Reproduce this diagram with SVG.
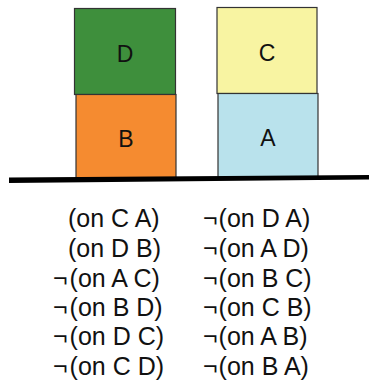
<svg xmlns="http://www.w3.org/2000/svg" width="369" height="385" viewBox="0 0 369 385">
  <style>
    .block { stroke: #333; stroke-width: 1.2; }
    .label { font-family: "Liberation Sans", Arial, sans-serif; font-size: 23px; fill: #111; text-anchor: middle; }
    .fact { font-family: "Liberation Sans", Arial, sans-serif; font-size: 25px; fill: #111; }
  </style>
  <rect width="369" height="385" fill="#ffffff"/>

  <!-- left stack: D on B -->
  <g id="block-D">
    <rect class="block" x="74.5" y="8.5" width="101" height="86" fill="#3e8f3c"/>
    <text class="label" x="125" y="62">D</text>
  </g>
  <g id="block-B">
    <rect class="block" x="76" y="94.5" width="100" height="84" fill="#f58b30"/>
    <text class="label" x="126" y="147">B</text>
  </g>

  <!-- right stack: C on A -->
  <g id="block-C">
    <rect class="block" x="217" y="7.5" width="100" height="86" fill="#f8f4a2"/>
    <text class="label" x="267" y="61">C</text>
  </g>
  <g id="block-A">
    <rect class="block" x="218" y="93.5" width="100" height="84" fill="#b9e2ec"/>
    <text class="label" x="268" y="146">A</text>
  </g>

  <!-- table surface -->
  <g id="connectors">
    <polygon points="9,177.6 369,175 369,179.6 9,183" fill="#000"/>
  </g>

  <!-- state description -->
  <g id="facts-left">
    <text class="fact" x="68" y="227">(on C A)</text>
    <text class="fact" x="68" y="257">(on D B)</text>
    <text class="fact" x="53" y="287">¬<tspan dx="2">(on A C)</tspan></text>
    <text class="fact" x="53" y="316">¬<tspan dx="2">(on B D)</tspan></text>
    <text class="fact" x="53" y="345">¬<tspan dx="2">(on D C)</tspan></text>
    <text class="fact" x="53" y="375">¬<tspan dx="2">(on C D)</tspan></text>
  </g>
  <g id="facts-right">
    <text class="fact" x="203" y="227">¬<tspan dx="1">(on D A)</tspan></text>
    <text class="fact" x="203" y="257">¬<tspan dx="1">(on A D)</tspan></text>
    <text class="fact" x="203" y="287">¬<tspan dx="1">(on B C)</tspan></text>
    <text class="fact" x="203" y="316">¬<tspan dx="1">(on C B)</tspan></text>
    <text class="fact" x="203" y="345">¬<tspan dx="1">(on A B)</tspan></text>
    <text class="fact" x="203" y="375">¬<tspan dx="1">(on B A)</tspan></text>
  </g>
</svg>
